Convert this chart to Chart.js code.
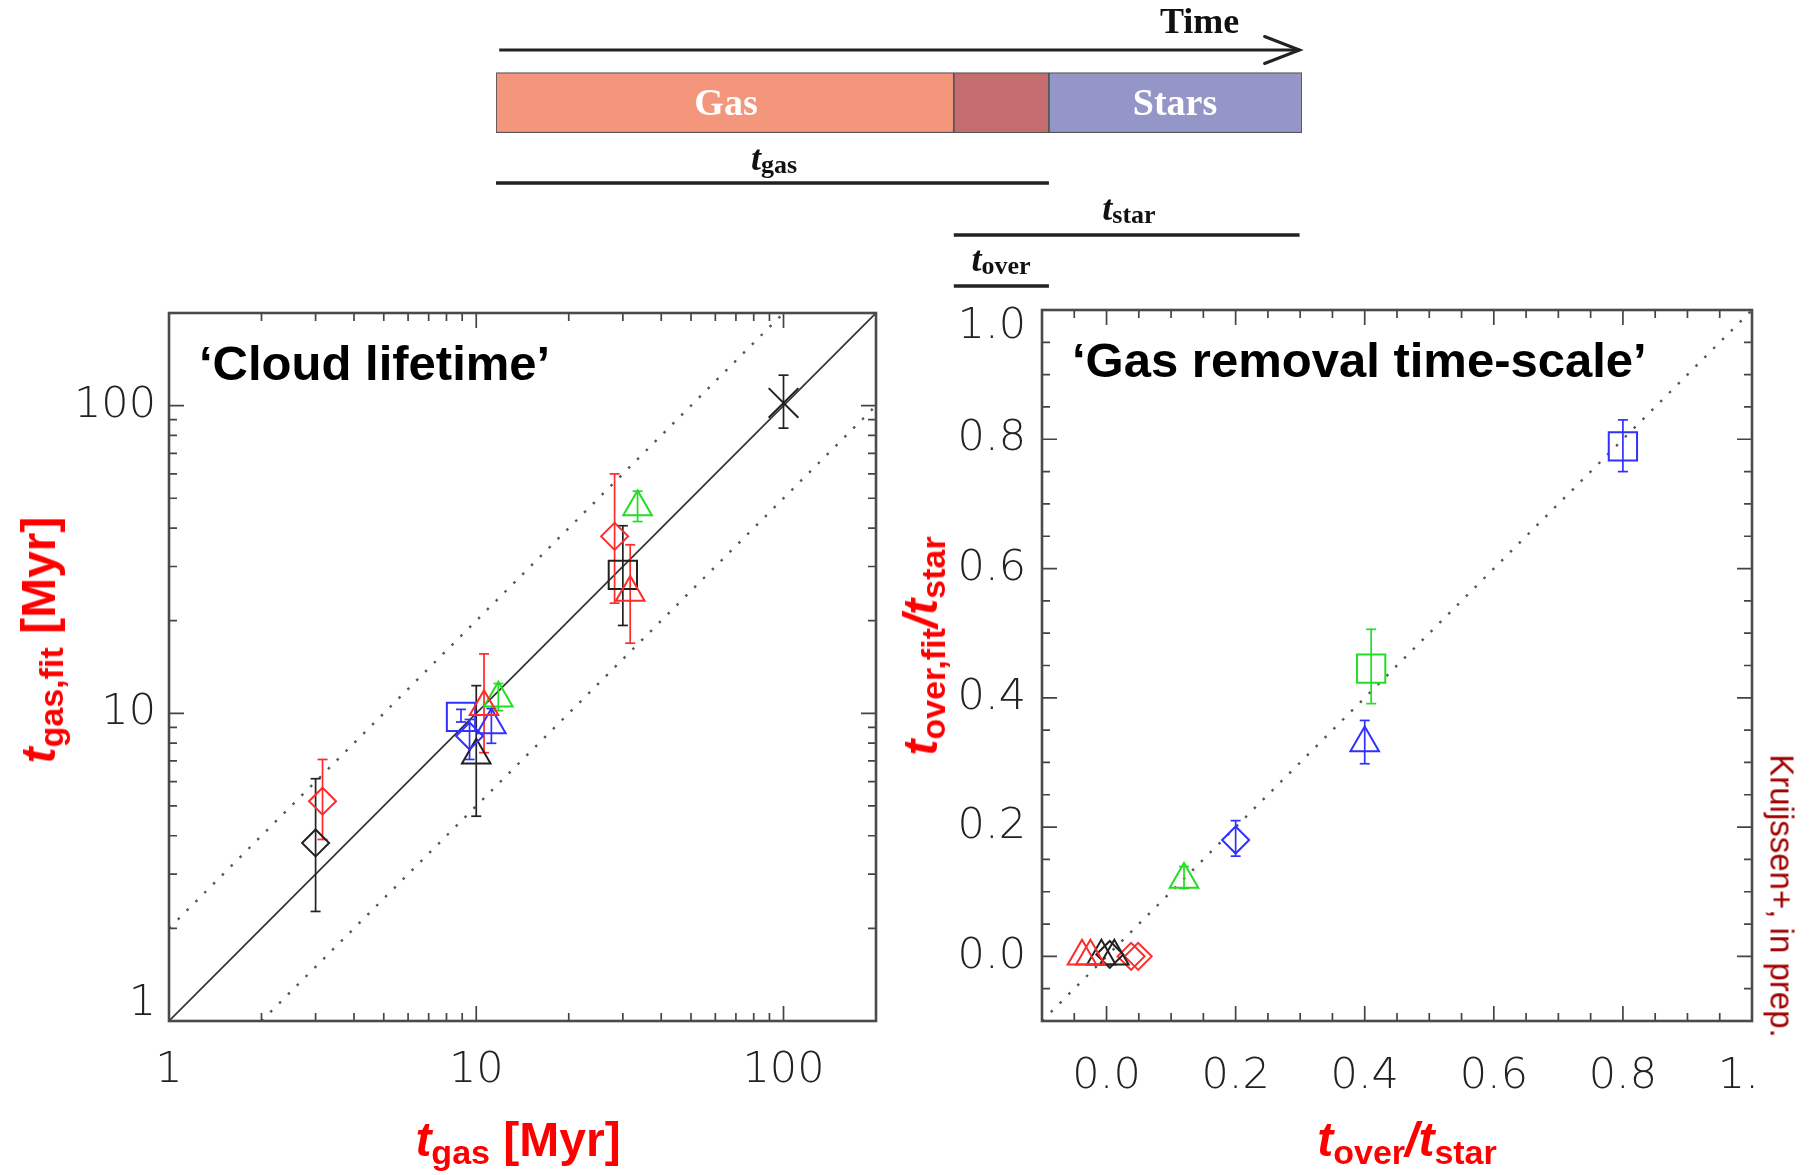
<!DOCTYPE html>
<html><head><meta charset="utf-8">
<script src="https://cdn.jsdelivr.net/npm/chart.js@4.4.1/dist/chart.umd.min.js"></script>
<style>
html,body{margin:0;padding:0;background:#fff;overflow:hidden;}
#page{position:relative;width:1816px;height:1175px;overflow:hidden;background:#fff;}
canvas{position:absolute;}
.lbl{position:absolute;white-space:nowrap;line-height:1;z-index:5;}
.sans{font-family:"Liberation Sans",Arial,sans-serif;font-weight:bold;}
.serif{font-family:"Liberation Serif","Times New Roman",serif;font-weight:bold;}
.red{color:#ff0000;}
.ti{font-style:italic;}
.sub{position:relative;}
</style></head>
<body><div id="page">
<canvas id="timeline" width="840" height="300" style="left:480px;top:0px;width:840px;height:300px"></canvas>
<canvas id="left" width="910" height="925" style="left:0px;top:250px;width:910px;height:925px"></canvas>
<canvas id="right" width="920" height="925" style="left:910px;top:250px;width:920px;height:925px"></canvas>

<div class="lbl serif" style="left:1160px;top:3px;font-size:36px;color:#111">Time</div>
<div class="lbl serif" style="left:726px;top:83px;font-size:38px;color:#fff;transform:translateX(-50%)">Gas</div>
<div class="lbl serif" style="left:1175px;top:83px;font-size:38px;color:#fff;transform:translateX(-50%)">Stars</div>
<div class="lbl serif" style="left:774px;top:140px;font-size:36px;color:#111;transform:translateX(-50%)"><span class="ti">t</span><span class="sub" style="font-size:26px;top:3px">gas</span></div>
<div class="lbl serif" style="left:1129px;top:190px;font-size:36px;color:#111;transform:translateX(-50%)"><span class="ti">t</span><span class="sub" style="font-size:26px;top:3px">star</span></div>
<div class="lbl serif" style="left:1001px;top:241px;font-size:36px;color:#111;transform:translateX(-50%)"><span class="ti">t</span><span class="sub" style="font-size:26px;top:3px">over</span></div>

<div class="lbl sans" style="left:199px;top:339px;font-size:49px;color:#000">‘Cloud lifetime’</div>
<div class="lbl sans" style="left:1072px;top:336px;font-size:49px;color:#000">‘Gas removal time-scale’</div>

<div class="lbl sans red" style="left:518px;top:1116px;font-size:48px;transform:translateX(-50%)"><span class="ti">t</span><span class="sub" style="font-size:34px;top:8px">gas</span> [Myr]</div>
<div class="lbl sans red" style="left:1407px;top:1116px;font-size:48px;transform:translateX(-50%)"><span class="ti">t</span><span class="sub" style="font-size:34px;top:8px">over</span><span class="ti">/t</span><span class="sub" style="font-size:34px;top:8px">star</span></div>
<div class="lbl sans red" style="left:39px;top:640px;font-size:48px;transform:translate(-50%,-50%) rotate(-90deg)"><span class="ti">t</span><span class="sub" style="font-size:34px;top:8px">gas,fit</span> [Myr]</div>
<div class="lbl sans red" style="left:921px;top:646px;font-size:48px;transform:translate(-50%,-50%) rotate(-90deg)"><span class="ti">t</span><span class="sub" style="font-size:34px;top:8px">over,fit</span><span class="ti">/t</span><span class="sub" style="font-size:34px;top:8px">star</span></div>
<div class="lbl" style="left:1782px;top:896px;font-family:'Liberation Sans',Arial,sans-serif;font-size:33px;color:#a00000;transform:translate(-50%,-50%) rotate(90deg)">Kruijssen+, in prep.</div>
</div>
<script>
// ================= DATA =================
// Timeline schematic (arbitrary time units)
const phaseNames  = ['Gas', 'Overlap', 'Stars'];
const phaseStart  = [0, 5.68, 6.86];
const phaseEnd    = [5.68, 6.86, 10];
const spanNames   = ['t_gas', 't_star', 't_over'];
const spanStart   = [0, 5.68, 5.68];
const spanEnd     = [6.86, 9.97, 6.86];
const timeArrow   = [0.04, 9.97];

// 'Cloud lifetime' panel: rows are [t_gas, t_gas,fit, lower, upper]  (Myr)
const cloudRedDiamond   = [[3.16, 5.18, 3.89, 7.08], [28.2, 37.6, 22.8, 60.0]];
const cloudRedTriangle  = [[10.6, 10.5, 7.45, 15.6], [31.7, 24.7, 16.9, 35.3]];
const cloudGreenTriangle= [[11.8, 11.2, 10.2, 12.5], [33.5, 46.8, 42.0, 52.7]];
const cloudBlueSquare   = [[8.92, 9.74, 9.37, 10.3]];
const cloudBlueDiamond  = [[9.51, 8.44, 7.08, 9.55]];
const cloudBlueTriangle = [[11.2, 9.17, 7.99, 10.36]];
const cloudBlackDiamond = [[3.0, 3.79, 2.27, 6.13]];
const cloudBlackTriangle= [[10.0, 7.3, 4.63, 12.3]];
const cloudBlackSquare  = [[30.0, 28.2, 19.3, 40.7]];
const cloudBlackCross   = [[100, 102, 84.5, 125.6]];
const cloudOneToOne = [[1, 1], [200, 200]];
const cloudTwiceLine = [[1, 2], [100, 200]];
const cloudHalfLine  = [[2, 1], [200, 100]];

// 'Gas removal time-scale' panel: rows are [t_over/t_star, t_over,fit/t_star, lower, upper]
const gasBlueSquare    = [[0.80, 0.789, 0.750, 0.830]];
const gasGreenSquare   = [[0.41, 0.445, 0.391, 0.506]];
const gasBlueTriangle  = [[0.40, 0.330, 0.298, 0.365]];
const gasBlueDiamond   = [[0.20, 0.180, 0.155, 0.210]];
const gasGreenTriangle = [[0.12, 0.119, 0.105, 0.139]];
const gasRedTriangle   = [[-0.038, 0.0, 0.0, 0.0], [-0.025, 0.0, 0.0, 0.0]];
const gasBlackTriangle = [[-0.008, 0.0, 0.0, 0.0], [0.012, 0.0, 0.0, 0.0]];
const gasBlackDiamond  = [[0.005, 0.003, 0.003, 0.003]];
const gasRedDiamond    = [[0.038, 0.0, 0.0, 0.0], [0.049, 0.0, 0.0, 0.0]];
const gasOneToOne = [[-0.1, -0.1], [1.0, 1.0]];

// Ticks
const logTickValues = [1,2,3,4,5,6,7,8,9,10,20,30,40,50,60,70,80,90,100,200];
const logMajorValues = [1, 10, 100];
const logMajorLabelsX = ['1', '10', '100'];
const logMajorLabelsY = [['1', ''], '10', '100'];
const linTickValues = [-0.1,-0.05,0,0.05,0.1,0.15,0.2,0.25,0.3,0.35,0.4,0.45,0.5,0.55,0.6,0.65,0.7,0.75,0.8,0.85,0.9,0.95,1.0];
const linMajorValues = [0, 0.2, 0.4, 0.6, 0.8, 1.0];
const linMajorLabelsX = ['0.0', '0.2', '0.4', '0.6', '0.8', '1.  '];
const linMajorLabelsY = ['0.0', '0.2', '0.4', '0.6', '0.8', ['', '1.0']];

// ================= STYLE =================
const COL = {red:'#ff2a2a', green:'#22dd22', blue:'#3030ff', black:'#222222'};
const SHAPE = {
  diamond:{style:'rectRot', r:13.5}, triangle:{style:'triangle', r:16.5},
  square:{style:'rect', r:20}, cross:{style:'crossRot', r:21}
};
const tickFont = {family:'"DejaVu Sans", sans-serif', size:43, weight:'200', lineHeight:0.8};
const timelineRows = {arrow:50, bar:102.7, spans:[183, 235, 286]};
const phaseColors = ['#F3967B', '#C56D6E', '#9496C8'];

// ================= HELPERS =================
function markerDS(rows, shape, color) {
  const s = SHAPE[shape];
  return {type:'scatter', data: rows.map(r => ({x:r[0], y:r[1]})), pointStyle:s.style,
    pointRadius:s.r, pointHoverRadius:s.r, pointBorderColor:color,
    pointBackgroundColor:'rgba(0,0,0,0)', pointBorderWidth:2, showLine:false, order:1};
}
function errDS(rows, color) {
  const d = [];
  rows.forEach(r => { if (r[3] > r[2]) d.push({x:r[0], y:r[2]}, {x:r[0], y:r[3]}, {x:r[0], y:null}); });
  return {type:'line', data:d, borderColor:color, borderWidth:1.7, pointStyle:'line', pointRadius:5,
    pointHoverRadius:5, pointBorderColor:color, pointBorderWidth:1.7, pointBackgroundColor:color,
    spanGaps:false, fill:false, order:2};
}
function refLine(pts, dashed) {
  return {type:'line', data: pts.map(p => ({x:p[0], y:p[1]})), borderColor: dashed ? '#555' : '#333',
    borderWidth: dashed ? 2.4 : 1.7, borderDash: dashed ? [2.5, 10] : [], pointRadius:0, fill:false, order:3};
}
function labelFrom(values, labels) {
  return v => { const i = values.findIndex(m => Math.abs(m - v) < 1e-9); return i >= 0 ? labels[i] : ''; };
}

const frameTicksPlugin = {
  id:'frameTicks',
  afterDraw(chart, args, opts) {
    if (!opts || !opts.enabled) return;
    const {ctx, chartArea:a, scales} = chart;
    const isMajor = (v, majors) => majors.some(m => Math.abs(m - v) < 1e-9);
    ctx.save();
    ctx.strokeStyle = '#444'; ctx.lineWidth = 1.7;
    scales.x.ticks.forEach(t => {
      const px = scales.x.getPixelForValue(t.value);
      const len = isMajor(t.value, opts.xMajor) ? 15 : 8;
      ctx.beginPath();
      ctx.moveTo(px, a.bottom); ctx.lineTo(px, a.bottom - len);
      ctx.moveTo(px, a.top); ctx.lineTo(px, a.top + len);
      ctx.stroke();
    });
    scales.y.ticks.forEach(t => {
      const py = scales.y.getPixelForValue(t.value);
      const len = isMajor(t.value, opts.yMajor) ? 15 : 8;
      ctx.beginPath();
      ctx.moveTo(a.left, py); ctx.lineTo(a.left + len, py);
      ctx.moveTo(a.right, py); ctx.lineTo(a.right - len, py);
      ctx.stroke();
    });
    ctx.lineWidth = 2.6; ctx.strokeStyle = '#4a4a4a';
    ctx.strokeRect(a.left, a.top, a.right - a.left, a.bottom - a.top);
    ctx.restore();
  }
};
const arrowHeadPlugin = {
  id:'arrowHead',
  afterDatasetsDraw(chart) {
    chart.data.datasets.forEach((ds, i) => {
      if (!ds.arrowHead) return;
      const pts = chart.getDatasetMeta(i).data;
      const p = pts[pts.length - 1];
      const ctx = chart.ctx;
      ctx.save();
      ctx.strokeStyle = ds.borderColor; ctx.lineWidth = ds.borderWidth; ctx.lineCap = 'round';
      ctx.beginPath(); ctx.moveTo(p.x - 35, p.y - 13.5); ctx.lineTo(p.x, p.y); ctx.lineTo(p.x - 35, p.y + 13.5);
      ctx.stroke(); ctx.restore();
    });
  }
};
Chart.register(frameTicksPlugin, arrowHeadPlugin);

function axis(type, min, max, tickValues, cb, fitFn, padding) {
  return {type, min, max, offset:false, grid:{display:false, drawTicks:false}, border:{display:false},
    afterBuildTicks: s => { s.ticks = tickValues.map(v => ({value:v})); },
    afterFit: fitFn,
    ticks:{autoSkip:false, maxRotation:0, minRotation:0, padding, color:'#222', font:tickFont, callback:cb}};
}
function baseOptions(pad, xs, ys, fr) {
  return {responsive:false, animation:false, devicePixelRatio:1, events:[],
    layout:{padding:pad},
    plugins:{legend:{display:false}, tooltip:{enabled:false}, frameTicks:fr},
    scales:{x:xs, y:ys}};
}

// ================= TIMELINE =================
const tlDatasets = [{
  type:'bar', indexAxis:'y', grouped:false,
  data: phaseNames.map((n, i) => ({y:timelineRows.bar, x:[phaseStart[i], phaseEnd[i]]})),
  backgroundColor: phaseColors, borderColor:'#555', borderWidth:1.2, borderSkipped:false,
  barThickness:60, order:3
}];
spanNames.forEach((n, i) => tlDatasets.push({type:'line', label:n,
  data:[{x:spanStart[i], y:timelineRows.spans[i]}, {x:spanEnd[i], y:timelineRows.spans[i]}],
  borderColor:'#222', borderWidth:3.5, pointRadius:0, order:1}));
tlDatasets.push({type:'line', label:'Time', arrowHead:true,
  data:[{x:timeArrow[0], y:timelineRows.arrow}, {x:timeArrow[1], y:timelineRows.arrow}],
  borderColor:'#222', borderWidth:3, pointRadius:0, order:1});
new Chart(document.getElementById('timeline'), {
  type:'scatter', data:{datasets:tlDatasets},
  options:{responsive:false, animation:false, devicePixelRatio:1, events:[],
    layout:{padding:{left:16, right:18, top:0, bottom:0}},
    plugins:{legend:{display:false}, tooltip:{enabled:false}},
    scales:{x:{type:'linear', min:0, max:10, offset:false, display:false},
            y:{type:'linear', min:0, max:300, reverse:true, offset:false, display:false}}}
});

// ================= LEFT PANEL =================
const leftSeries = [
  [cloudRedDiamond, 'diamond', COL.red], [cloudRedTriangle, 'triangle', COL.red],
  [cloudGreenTriangle, 'triangle', COL.green], [cloudBlueSquare, 'square', COL.blue],
  [cloudBlueDiamond, 'diamond', COL.blue], [cloudBlueTriangle, 'triangle', COL.blue],
  [cloudBlackDiamond, 'diamond', COL.black], [cloudBlackTriangle, 'triangle', COL.black],
  [cloudBlackSquare, 'square', COL.black], [cloudBlackCross, 'cross', COL.black]
];
const leftDatasets = [refLine(cloudOneToOne, false), refLine(cloudTwiceLine, true), refLine(cloudHalfLine, true)];
leftSeries.forEach(s => { leftDatasets.push(errDS(s[0], s[2])); leftDatasets.push(markerDS(s[0], s[1], s[2])); });
new Chart(document.getElementById('left'), {
  type:'scatter', data:{datasets:leftDatasets},
  options: baseOptions({left:0, right:34, top:63, bottom:0},
    axis('logarithmic', 1, 200, logTickValues, labelFrom(logMajorValues, logMajorLabelsX), s => { s.height = 154; }, 33),
    axis('logarithmic', 1, 200, logTickValues, labelFrom(logMajorValues, logMajorLabelsY), s => { s.width = 169; }, 13),
    {enabled:true, xMajor:logMajorValues, yMajor:logMajorValues})
});

// ================= RIGHT PANEL =================
const rightSeries = [
  [gasBlueSquare, 'square', COL.blue], [gasGreenSquare, 'square', COL.green],
  [gasBlueTriangle, 'triangle', COL.blue], [gasBlueDiamond, 'diamond', COL.blue],
  [gasGreenTriangle, 'triangle', COL.green], [gasRedTriangle, 'triangle', COL.red],
  [gasBlackTriangle, 'triangle', COL.black], [gasBlackDiamond, 'diamond', COL.black],
  [gasRedDiamond, 'diamond', COL.red]
];
const rightDatasets = [refLine(gasOneToOne, true)];
rightSeries.forEach(s => { rightDatasets.push(errDS(s[0], s[2])); rightDatasets.push(markerDS(s[0], s[1], s[2])); });
new Chart(document.getElementById('right'), {
  type:'scatter', data:{datasets:rightDatasets},
  options: baseOptions({left:0, right:78, top:60, bottom:0},
    axis('linear', -0.1, 1.0, linTickValues, labelFrom(linMajorValues, linMajorLabelsX), s => { s.height = 154; }, 39),
    axis('linear', -0.1, 1.0, linTickValues, labelFrom(linMajorValues, linMajorLabelsY), s => { s.width = 132; }, 16),
    {enabled:true, xMajor:linMajorValues, yMajor:linMajorValues})
});
</script>
</body></html>
